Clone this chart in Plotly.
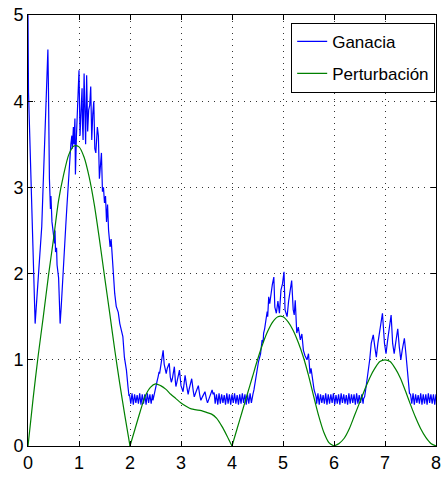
import numpy as np
import plotly.graph_objects as go

# ---------------- data ----------------
# Perturbación (green), sampled every 0.1
pert_x = [round(0.1 * i, 1) for i in range(81)]
pert_y = [0.00, 0.55, 1.05, 1.50, 1.97, 2.40, 2.85, 3.15, 3.38, 3.48,
          3.47, 3.35, 3.12, 2.80, 2.40, 1.97, 1.55, 1.12, 0.72, 0.35,
          0.00, 0.20, 0.40, 0.58, 0.68, 0.72, 0.70, 0.66, 0.60, 0.55,
          0.50, 0.46, 0.43, 0.42, 0.41, 0.39, 0.37, 0.32, 0.23, 0.12,
          0.00, 0.20, 0.40, 0.60, 0.80, 1.00, 1.18, 1.33, 1.44, 1.50,
          1.50, 1.44, 1.34, 1.20, 1.03, 0.82, 0.58, 0.35, 0.16, 0.04,
          0.00, 0.03, 0.09, 0.20, 0.35, 0.50, 0.65, 0.79, 0.90, 0.98,
          1.00, 0.98, 0.90, 0.79, 0.64, 0.48, 0.33, 0.20, 0.10, 0.03,
          0.00]

# Ganacia (blue): irregular segments
segA_x = [0.0, 0.005, 0.01, 0.14, 0.16, 0.18, 0.21, 0.24, 0.27, 0.29, 0.31, 0.33, 0.35, 0.37, 0.39,
          0.40, 0.41, 0.42, 0.44, 0.45, 0.47, 0.50, 0.52, 0.53, 0.54, 0.56, 0.57, 0.60, 0.62, 0.63,
          0.65, 0.67, 0.69, 0.72, 0.74, 0.76, 0.78, 0.80, 0.82, 0.84, 0.86, 0.87, 0.89, 0.90, 0.92,
          0.93, 0.95, 0.97, 1.00, 1.02, 1.04, 1.06, 1.07, 1.08, 1.10, 1.12, 1.13, 1.15, 1.17, 1.19,
          1.21, 1.23, 1.25, 1.27, 1.29, 1.31, 1.33, 1.36, 1.38, 1.40, 1.42, 1.44, 1.46, 1.48, 1.50,
          1.52, 1.54, 1.56, 1.58, 1.61, 1.63, 1.66, 1.68, 1.70, 1.73, 1.77, 1.80, 1.83, 1.86, 1.89,
          1.93, 1.96, 1.98]
segA_y = [5.0, 4.2, 4.1, 1.42, 1.6, 1.75, 2.1, 2.3, 2.55, 2.9, 3.25, 3.6, 3.9, 4.25, 4.6,
          4.2, 3.4, 3.1, 2.75, 2.9, 2.6, 2.45, 2.35, 2.5, 2.25, 2.3, 2.1, 1.95, 1.6, 1.42,
          1.6, 1.85, 2.0, 2.35, 2.55, 2.75, 2.95, 3.2, 3.4, 3.5, 3.6, 3.45, 3.7, 3.5, 3.8,
          3.15, 3.6, 3.9, 4.36, 3.6, 3.85, 4.15, 3.7, 3.55, 4.32, 3.6, 3.5, 4.3, 3.65, 3.9,
          3.95, 4.17, 3.55, 3.85, 4.0, 3.45, 3.4, 3.7, 3.6, 3.1, 3.3, 3.4, 2.95, 3.0, 2.82,
          2.9, 2.6, 2.8, 2.5, 2.31, 2.4, 2.13, 1.85, 1.77, 1.62, 1.55, 1.42, 1.34, 1.27, 1.03,
          0.88, 0.69, 0.58]

band1_range = [1.99, 2.44]
band1_y = [0.60, 0.49, 0.61, 0.48, 0.60, 0.50, 0.59, 0.49, 0.61, 0.48,
           0.60, 0.49, 0.60, 0.48, 0.61, 0.50, 0.60, 0.49, 0.60]

segB_x = [2.45, 2.48, 2.51, 2.53, 2.55, 2.57, 2.58, 2.60, 2.62, 2.63, 2.65, 2.67, 2.69, 2.71,
          2.73, 2.75, 2.77, 2.79, 2.81, 2.83, 2.85, 2.87, 2.89, 2.90, 2.92, 2.95, 2.97, 3.00,
          3.02, 3.04, 3.06, 3.08, 3.11, 3.14, 3.16, 3.18, 3.21, 3.24, 3.26, 3.29, 3.32, 3.34,
          3.37, 3.39, 3.42, 3.45, 3.47, 3.50, 3.52, 3.55, 3.58, 3.61, 3.63, 3.65]
segB_y = [0.53, 0.60, 0.69, 0.75, 0.80, 0.86, 0.84, 0.93, 0.97, 1.03, 1.11, 0.95, 0.88, 0.84,
          0.90, 0.93, 0.96, 0.80, 0.74, 0.78, 0.86, 0.92, 0.75, 0.69, 0.74, 0.82, 0.88, 0.70,
          0.66, 0.63, 0.72, 0.82, 0.70, 0.60, 0.66, 0.72, 0.78, 0.64, 0.57, 0.62, 0.67, 0.70,
          0.58, 0.53, 0.57, 0.61, 0.63, 0.54, 0.50, 0.55, 0.59, 0.65, 0.60, 0.62]

band2_range = [3.67, 4.38]
band2_y = [0.49, 0.60, 0.48, 0.61, 0.49, 0.60, 0.50, 0.59, 0.48, 0.61,
           0.49, 0.60, 0.48, 0.60, 0.50, 0.61, 0.49, 0.59, 0.48, 0.60,
           0.49, 0.61, 0.50, 0.60, 0.48, 0.60, 0.49, 0.61, 0.50]

segC_x = [4.39, 4.41, 4.43, 4.46, 4.49, 4.52, 4.56, 4.59, 4.61, 4.62, 4.64, 4.66, 4.69, 4.70,
          4.72, 4.74, 4.76, 4.79, 4.82, 4.84, 4.87, 4.90, 4.93, 4.96, 4.99, 5.02, 5.04, 5.08,
          5.11, 5.14, 5.17, 5.20, 5.22, 5.24, 5.27, 5.30, 5.34, 5.37, 5.40, 5.43, 5.47, 5.50,
          5.53, 5.55, 5.58, 5.61, 5.65]
segC_y = [0.55, 0.60, 0.65, 0.78, 0.88, 0.98, 1.07, 1.23, 1.20, 1.31, 1.36, 1.44, 1.56, 1.50,
          1.73, 1.65, 1.77, 1.87, 1.96, 1.61, 1.54, 1.68, 1.54, 1.81, 1.88, 2.02, 1.58, 1.50,
          1.68, 1.81, 1.92, 1.58, 1.52, 1.69, 1.31, 1.38, 1.23, 1.30, 1.11, 1.05, 1.00, 1.07,
          0.84, 0.90, 0.76, 0.65, 0.57]

band3_range = [5.66, 6.57]
band3_y = [0.49, 0.61, 0.48, 0.60, 0.50, 0.59, 0.49, 0.61, 0.48, 0.60,
           0.49, 0.60, 0.50, 0.61, 0.48, 0.59, 0.49, 0.60, 0.48, 0.61,
           0.50, 0.60, 0.49, 0.59, 0.48, 0.61, 0.49, 0.60, 0.50, 0.60,
           0.48, 0.61, 0.49, 0.59, 0.50, 0.60, 0.49]

segD_x = [6.58, 6.60, 6.63, 6.67, 6.70, 6.73, 6.77, 6.80, 6.83, 6.86, 6.89, 6.92, 6.95, 6.99,
          7.02, 7.05, 7.09, 7.12, 7.15, 7.18, 7.21, 7.25, 7.28, 7.31, 7.34, 7.38, 7.41, 7.45, 7.48]
segD_y = [0.55, 0.57, 0.69, 0.84, 1.00, 1.19, 1.29, 1.15, 1.03, 1.19, 1.30, 1.40, 1.54, 1.19,
          1.07, 1.22, 1.40, 1.52, 1.19, 1.07, 1.20, 1.36, 1.15, 1.00, 1.12, 1.25, 1.07, 0.80, 0.61]

band4_range = [7.50, 8.00]
band4_y = [0.60, 0.49, 0.61, 0.48, 0.60, 0.50, 0.59, 0.49, 0.61, 0.48,
           0.60, 0.49, 0.60, 0.48, 0.61, 0.50, 0.60, 0.49, 0.60, 0.48, 0.60]

x_ticks = [0, 1, 2, 3, 4, 5, 6, 7, 8]
y_ticks = [0, 1, 2, 3, 4, 5]

# ---------------- assemble ----------------
def band_x(rng, ys):
    return list(np.linspace(rng[0], rng[1], len(ys)))

gan_x = (segA_x + band_x(band1_range, band1_y) + segB_x + band_x(band2_range, band2_y)
         + segC_x + band_x(band3_range, band3_y) + segD_x + band_x(band4_range, band4_y))
gan_y = segA_y + band1_y + segB_y + band2_y + segC_y + band3_y + segD_y + band4_y

FONT = "Liberation Sans, Arial, Helvetica, sans-serif"

fig = go.Figure()
fig.add_trace(go.Scatter(x=gan_x, y=gan_y, mode="lines", name="Ganacia",
                         line=dict(color="#0000FF", width=1.2), legendgroup="g1"))

# green curve: smooth pieces between zero touches
zeros = [i for i, v in enumerate(pert_y) if v == 0.0]
first = True
for a, b in zip(zeros[:-1], zeros[1:]):
    fig.add_trace(go.Scatter(x=pert_x[a:b + 1], y=pert_y[a:b + 1], mode="lines",
                             name="Perturbación", legendgroup="g2", showlegend=first,
                             line=dict(color="#008000", width=1.2, shape="spline", smoothing=0.8)))
    first = False

axis_common = dict(showline=True, linecolor="black", linewidth=1, mirror="ticks",
                   ticks="inside", ticklen=5, tickcolor="black", tickwidth=1,
                   showgrid=True, gridcolor="#333333", gridwidth=1, griddash="1px,5px",
                   zeroline=False, ticklabeloverflow="allow", automargin=False,
                   tickfont=dict(family=FONT, size=18, color="black"))

fig.update_layout(
    width=441, height=478,
    margin=dict(l=28, r=5, t=15, b=32, autoexpand=False),
    paper_bgcolor="white", plot_bgcolor="white",
    showlegend=True,
    legend=dict(x=0.998, y=0.982, xanchor="right", yanchor="top",
                bordercolor="black", borderwidth=1, bgcolor="white",
                font=dict(family=FONT, size=17, color="black"),
                tracegroupgap=7, traceorder="grouped"),
    xaxis=dict(range=[0, 8], tickvals=x_ticks, ticktext=[str(v) for v in x_ticks], **axis_common),
    yaxis=dict(range=[0, 5], tickvals=y_ticks, ticktext=[str(v) for v in y_ticks], **axis_common),
)

fig.write_html("out.html", config={"displayModeBar": False, "staticPlot": True})

# remove the default page margin so the figure sits at the window's corner
with open("out.html", "r", encoding="utf-8") as f:
    html = f.read()
html = html.replace("<body>", '<body style="margin:0;padding:0;overflow:hidden;">', 1)
with open("out.html", "w", encoding="utf-8") as f:
    f.write(html)
